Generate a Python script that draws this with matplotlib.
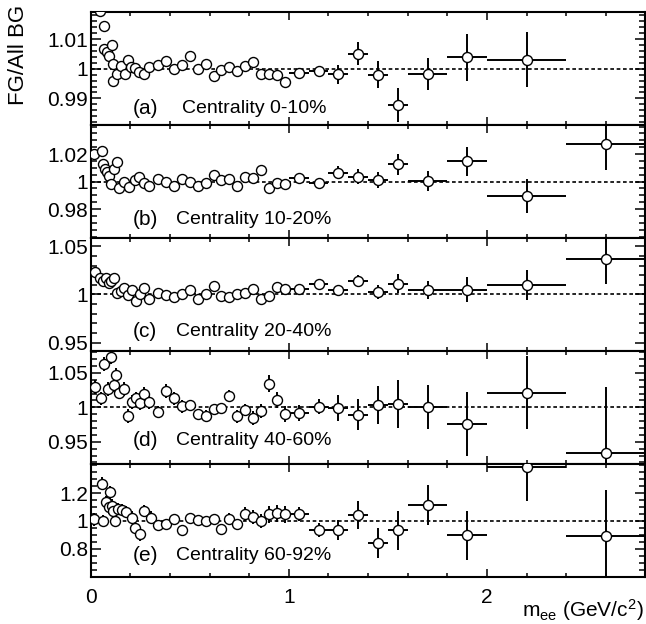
import numpy as np
import matplotlib.pyplot as plt
from matplotlib.ticker import FixedLocator, MultipleLocator

plt.rcParams['font.family'] = ['Liberation Sans', 'DejaVu Sans']
plt.rcParams['mathtext.default'] = 'regular'

# mass bins shared by all panels (GeV/c^2)
x_mid = [0.34, 0.38, 0.42, 0.46, 0.50, 0.54, 0.58, 0.62, 0.66, 0.70,
         0.74, 0.78, 0.82, 0.86, 0.90, 0.94, 0.98]
x_high = [1.05, 1.15, 1.25, 1.35, 1.45, 1.55, 1.7, 1.9, 2.2, 2.6]
xerr_high = [0.05, 0.05, 0.05, 0.05, 0.05, 0.05, 0.1, 0.1, 0.2, 0.2]

# (a) 0-10%
a_x_low = [0.046, 0.065, 0.067, 0.082, 0.092, 0.107, 0.112, 0.112, 0.133, 0.153,
           0.173, 0.187, 0.203, 0.223, 0.245, 0.267, 0.295]
a_y_low = [1.0194, 1.0145, 1.0068, 1.0056, 1.0043, 1.0079, 1.0017, 0.9960, 0.9983, 1.0008,
           0.9981, 1.0028, 1.0006, 1.0002, 0.9989, 0.9981, 1.0006]
a_y_mid = [1.0014, 1.0026, 1.0000, 1.0011, 1.0043, 0.9998, 1.0017, 0.9974, 0.9997, 1.0006,
           0.9994, 1.0008, 1.0023, 0.9983, 0.9983, 0.9980, 0.9957]
a_y_high = [0.9986, 0.9994, 0.9981, 1.0051, 0.9980, 0.9878, 0.9983, 1.0039, 1.0031, np.nan]
a_err_high = [0.001, 0.0012, 0.0031, 0.0038, 0.0046, 0.0056, 0.0054, 0.0079, 0.0092, np.nan]

# (b) 10-20%
b_x_low = [0.017, 0.057, 0.062, 0.070, 0.083, 0.090, 0.100, 0.120, 0.133, 0.145,
           0.167, 0.195, 0.223, 0.245, 0.267, 0.295]
b_y_low = [1.0201, 1.0225, 1.0130, 1.0094, 1.0070, 1.0041, 0.9986, 1.0094, 1.0146, 0.9950,
           0.9998, 0.9962, 1.0010, 1.0034, 0.9993, 0.9966]
b_y_mid = [1.0017, 0.9998, 0.9969, 1.0022, 0.9998, 0.9966, 0.9990, 1.0046, 1.0010, 1.0022,
           0.9966, 1.0034, 1.0026, 1.0086, 0.9950, 0.9993, 0.9986]
b_y_high = [1.0026, 0.9993, 1.0065, 1.0036, 1.0012, 1.0125, 1.0005, 1.0149, 0.9897, 1.0271]
b_err_high = [0.002, 0.003, 0.0046, 0.0054, 0.0056, 0.0078, 0.0073, 0.0105, 0.0122, 0.0188]

# (c) 20-40%
c_x_low = [0.020, 0.045, 0.062, 0.078, 0.090, 0.103, 0.117, 0.133, 0.153, 0.170,
           0.190, 0.207, 0.228, 0.248, 0.270, 0.295]
c_y_low = [1.0228, 1.0170, 1.0136, 1.0170, 1.0119, 1.0143, 1.0170, 1.0017, 1.0034, 1.0068,
           0.9990, 1.0044, 0.9932, 1.0000, 1.0068, 0.9956]
c_y_mid = [1.0017, 0.9990, 0.9976, 1.0010, 1.0044, 0.9956, 1.0010, 1.0092, 0.9983, 0.9973,
           1.0010, 1.0017, 1.0058, 0.9956, 0.9983, 1.0078, 1.0061]
c_y_high = [1.0058, 1.0112, 1.0051, 1.0139, 1.0027, 1.0112, 1.0051, 1.0051, 1.0100, 1.0367]
c_err_high = [0.002, 0.003, 0.0043, 0.0065, 0.0073, 0.0097, 0.0094, 0.0128, 0.0153, 0.026]

# (d) 40-60%
d_x_low = [0.023, 0.053, 0.067, 0.087, 0.103, 0.120, 0.128, 0.145, 0.170, 0.190,
           0.207, 0.228, 0.248, 0.270, 0.295]
d_y_low = [1.030, 1.013, 1.0625, 1.027, 1.0736, 1.032, 1.0466, 1.0216, 1.0264, 0.988,
           1.0082, 1.013, 1.0063, 1.019, 1.0082]
d_y_mid = [0.994, 1.024, 1.013, 1.0014, 1.0034, 0.990, 0.988, 0.9976, 0.9986, 1.0163,
           0.987, 0.9966, 0.9846, 0.9952, 1.0346, 1.011, 0.9904]
d_err_mid = [0.008, 0.010, 0.009, 0.009, 0.008, 0.008, 0.008, 0.008, 0.008, 0.009,
             0.009, 0.009, 0.010, 0.010, 0.012, 0.012, 0.012]
d_y_high = [0.9918, 1.001, 0.9986, 0.9894, 1.0034, 1.0048, 1.000, 0.976, 1.0216, 0.934]
d_err_high = [0.011, 0.011, 0.0188, 0.0227, 0.028, 0.035, 0.032, 0.047, 0.053, 0.095]

# (e) 60-92%
e_x_low = [0.016, 0.055, 0.064, 0.077, 0.091, 0.097, 0.106, 0.114, 0.123, 0.140,
           0.157, 0.178, 0.207, 0.223, 0.249, 0.269, 0.302]
e_y_low = [1.012, 1.267, 1.000, 1.133, 1.097, 1.206, 1.110, 1.073, 1.000, 1.085,
           1.080, 1.065, 1.024, 0.952, 0.903, 1.073, 1.024]
e_y_mid = [0.968, 0.976, 1.012, 0.935, 1.024, 1.005, 1.000, 1.017, 0.944, 1.017,
           0.976, 1.048, 1.031, 1.000, 1.048, 1.056, 1.048]
e_err_mid = [0.03, 0.03, 0.03, 0.03, 0.03, 0.03, 0.035, 0.035, 0.035, 0.04,
             0.04, 0.05, 0.05, 0.05, 0.06, 0.06, 0.06]
e_y_high = [1.048, 0.935, 0.935, 1.041, 0.842, 0.935, 1.114, 0.896, 1.388, 0.890]
e_err_high = [0.05, 0.05, 0.07, 0.10, 0.11, 0.14, 0.143, 0.176, 0.247, 0.33]

tags = ['(a)', '(b)', '(c)', '(d)', '(e)']
centralities = ['Centrality 0-10%', 'Centrality 10-20%', 'Centrality 20-40%',
                'Centrality 40-60%', 'Centrality 60-92%']
ylims = [(0.981, 1.019), (0.959, 1.041), (0.9415, 1.0585), (0.918, 1.082), (0.60, 1.41)]
yticks = [[0.99, 1.0, 1.01], [0.98, 1.0, 1.02], [0.95, 1.0, 1.05], [0.95, 1.0, 1.05], [0.8, 1.0, 1.2]]
ytick_labels = [['0.99', '1', '1.01'], ['0.98', '1', '1.02'], ['0.95', '1', '1.05'],
                ['0.95', '1', '1.05'], ['0.8', '1', '1.2']]
yminor = [0.002, 0.005, 0.01, 0.01, 0.05]

panels = [
    (a_x_low, a_y_low, 0.0015, a_y_mid, 0.0013, a_y_high, a_err_high),
    (b_x_low, b_y_low, 0.002, b_y_mid, 0.0016, b_y_high, b_err_high),
    (c_x_low, c_y_low, 0.002, c_y_mid, 0.0022, c_y_high, c_err_high),
    (d_x_low, d_y_low, 0.010, d_y_mid, d_err_mid, d_y_high, d_err_high),
    (e_x_low, e_y_low, 0.045, e_y_mid, e_err_mid, e_y_high, e_err_high),
]

fig, axes = plt.subplots(5, 1, figsize=(6.46, 6.24), dpi=100, sharex=True)
fig.subplots_adjust(left=0.1404, right=0.9977, top=0.9803, bottom=0.0758, hspace=0)

text_y = [0.15, 0.165, 0.17, 0.21, 0.185]
cent_x = [0.463, 0.43, 0.43, 0.43, 0.43]

for i, ax in enumerate(axes):
    xl, yl, el, ym, em, yh, eh = panels[i]
    ax.axhline(1.0, color='black', lw=1.2, dashes=(2.2, 1.6), zorder=1)
    style = dict(fmt='o', mfc='white', mec='black', ms=7.2, mew=1.0,
                 ecolor='black', elinewidth=1.4, capsize=0, zorder=3)
    ax.errorbar(xl, yl, yerr=el, xerr=0.005, **style)
    ax.errorbar(x_mid, ym, yerr=em, xerr=0.02, **style)
    ax.errorbar(x_high, yh, yerr=eh, xerr=xerr_high, **style)

    ax.set_xlim(0, 2.795)
    ax.set_ylim(*ylims[i])
    ax.yaxis.set_major_locator(FixedLocator(yticks[i]))
    ax.set_yticklabels(ytick_labels[i])
    ax.yaxis.set_minor_locator(MultipleLocator(yminor[i]))
    ax.xaxis.set_major_locator(FixedLocator([0, 1, 2]))
    ax.xaxis.set_minor_locator(MultipleLocator(0.2))
    ax.tick_params(which='both', direction='in', top=True, right=True, width=1.1)
    ax.tick_params(axis='y', which='major', length=7.5, labelsize=15, pad=2)
    ax.tick_params(axis='y', which='minor', length=4)
    ax.tick_params(axis='x', which='major', length=6, labelsize=15, pad=8)
    ax.tick_params(axis='x', which='minor', length=3)
    for sp in ax.spines.values():
        sp.set_linewidth(1.5)

    trans = ax.get_xaxis_transform()
    ax.text(0.212, text_y[i], tags[i], transform=trans, fontsize=15, va='center', ha='left')
    ax.text(cent_x[i], text_y[i], centralities[i], transform=trans, fontsize=14,
            va='center', ha='left')

axes[-1].set_xticklabels(['0', '1', '2'])

fig.text(0.028, 0.992, 'FG/All BG', rotation=90, ha='center', va='top', fontsize=16)
fig.text(0.997, 0.011, r'm$_{ee}$ (GeV/c$^{2}$)', ha='right', va='baseline', fontsize=15)

fig.savefig('out.png', dpi=100)
